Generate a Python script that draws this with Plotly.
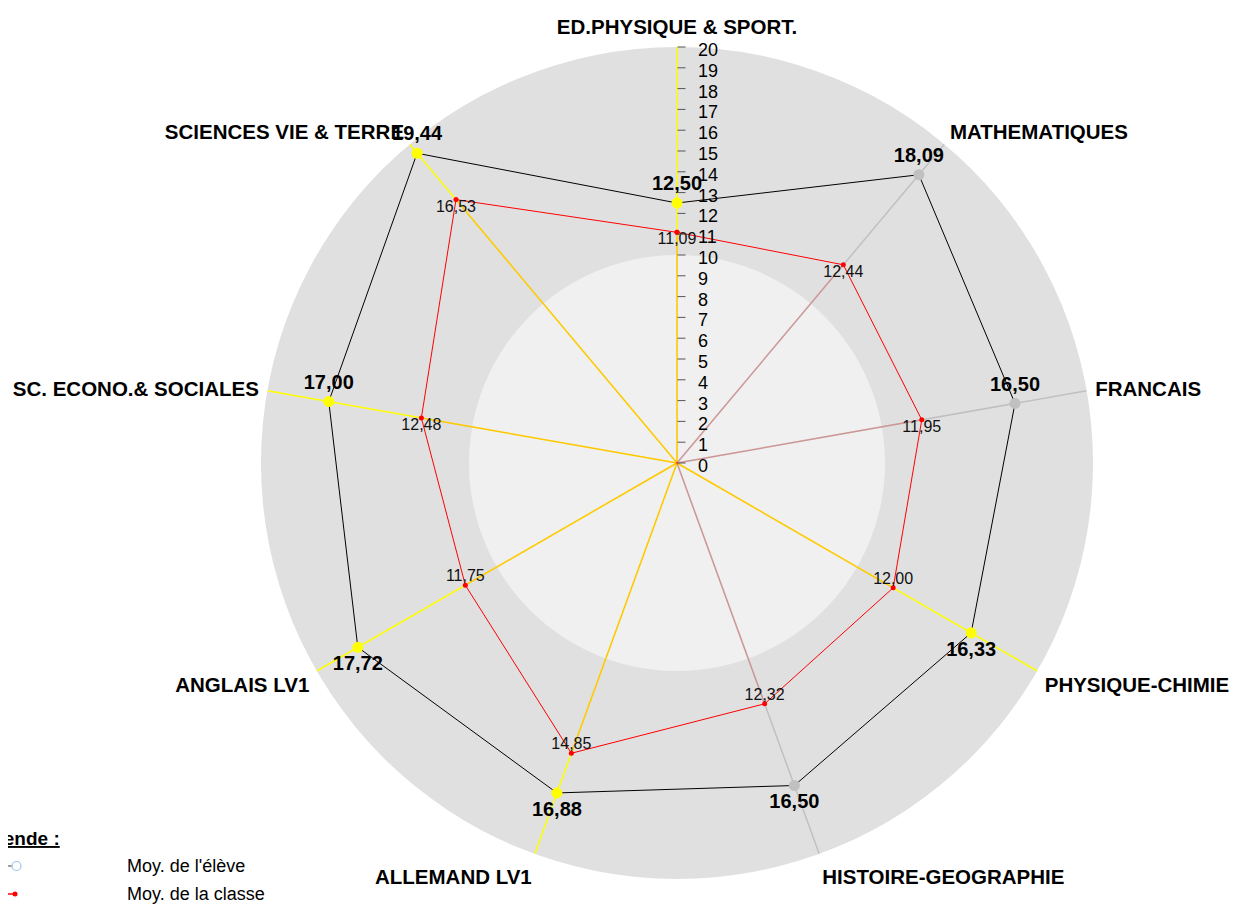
import plotly.graph_objects as go

categories = ["ED.PHYSIQUE & SPORT.", "MATHEMATIQUES", "FRANCAIS", "PHYSIQUE-CHIMIE",
              "HISTOIRE-GEOGRAPHIE", "ALLEMAND LV1", "ANGLAIS LV1",
              "SC. ECONO.& SOCIALES", "SCIENCES VIE & TERRE"]
eleve = [12.50, 18.09, 16.50, 16.33, 16.50, 16.88, 17.72, 17.00, 19.44]
classe = [11.09, 12.44, 11.95, 12.00, 12.32, 14.85, 11.75, 12.48, 16.53]
spoke_colors = ["#ffff00", "#c0c0c0", "#c0c0c0", "#ffff00", "#c0c0c0",
                "#ffff00", "#ffff00", "#ffff00", "#ffff00"]
radial_ticks = list(range(0, 21))
upper = [True, True, True, False, False, False, False, True, True]

FONT = "Arial, Liberation Sans, sans-serif"
W, H = 1237, 907
OFF = 8  # page body margin

def fmt(v):
    return f"{v:.2f}".replace(".", ",")

fig = go.Figure()

# inner light disc (0-10)
fig.add_trace(go.Barpolar(r=[10], theta=[categories[0]], width=[9], base=0,
                          marker=dict(color="#f0f0f0", line=dict(width=0)),
                          hoverinfo="skip", showlegend=False))

# spokes
for cat, col in zip(categories, spoke_colors):
    fig.add_trace(go.Scatterpolar(r=[0, 20], theta=[cat, cat], mode="lines",
                                  line=dict(color=col, width=1.5),
                                  hoverinfo="skip", showlegend=False))
# red translucent overlay from center to class value
for cat, v in zip(categories, classe):
    fig.add_trace(go.Scatterpolar(r=[0, v], theta=[cat, cat], mode="lines",
                                  line=dict(color="rgba(255,0,0,0.22)", width=1.5),
                                  hoverinfo="skip", showlegend=False))

# class polygon
fig.add_trace(go.Scatterpolar(
    r=classe + [classe[0]], theta=categories + [categories[0]],
    mode="lines+markers", line=dict(color="red", width=1),
    marker=dict(color="red", size=5), showlegend=False, hoverinfo="skip"))
fig.add_trace(go.Scatterpolar(
    r=classe, theta=categories, mode="text",
    text=[fmt(v) for v in classe],
    textposition=["bottom center" if u else "top center" for u in upper],
    textfont=dict(family=FONT, size=16, color="#111"),
    showlegend=False, hoverinfo="skip"))

# student polygon
fig.add_trace(go.Scatterpolar(
    r=eleve + [eleve[0]], theta=categories + [categories[0]],
    mode="lines", line=dict(color="black", width=1),
    showlegend=False, hoverinfo="skip"))
fig.add_trace(go.Scatterpolar(
    r=eleve, theta=categories, mode="markers+text",
    marker=dict(color=spoke_colors, size=11),
    text=["<b>" + fmt(v) + "</b>" for v in eleve],
    textposition=["top center" if u else "bottom center" for u in upper],
    textfont=dict(family=FONT, size=20, color="black"),
    showlegend=False, hoverinfo="skip"))

cx, cy, R = 677 - OFF, 463 - OFF, 416
fig.update_layout(
    width=W, height=H,
    margin=dict(l=0, r=0, t=0, b=0),
    paper_bgcolor="white",
    showlegend=False,
    polar=dict(
        domain=dict(x=[(cx - R) / W, (cx + R) / W], y=[(H - cy - R) / H, (H - cy + R) / H]),
        bgcolor="#e0e0e0",
        radialaxis=dict(range=[0, 20], angle=90, side="clockwise",
                        tickvals=radial_ticks, ticktext=[str(t) for t in radial_ticks],
                        ticks="outside", ticklen=8, tickcolor="#555",
                        showline=False, showgrid=False,
                        tickfont=dict(family=FONT, size=18, color="black"),
                        layer="above traces"),
        angularaxis=dict(rotation=90, direction="clockwise", categoryorder="array",
                         categoryarray=categories,
                         showline=False, showgrid=False, ticks="outside", ticklen=4,
                         tickcolor="rgba(0,0,0,0)",
                         tickprefix="<b>", ticksuffix="</b>",
                         tickfont=dict(family=FONT, size=20.5, color="black")),
        barmode="overlay",
    ),
)

# legend (custom)
fig.add_annotation(xref="paper", yref="paper", x=(62 - OFF) / W, y=1 - (838 - OFF) / H,
                   xanchor="right", yanchor="middle", showarrow=False,
                   text="<b><u>Légende :</u></b>",
                   font=dict(family=FONT, size=19, color="black"))
for i, (label, lcol) in enumerate([("Moy. de l'élève", "#808080"), ("Moy. de la classe", "red")]):
    yy = 866 + 28 * i - OFF
    fig.add_annotation(xref="paper", yref="paper", x=(125 - OFF) / W, y=1 - yy / H,
                       xanchor="left", yanchor="middle", showarrow=False,
                       text=label, font=dict(family=FONT, size=18, color="black"))
    fig.add_shape(type="line", xref="paper", yref="paper",
                  x0=0, x1=5 / W, y0=1 - yy / H, y1=1 - yy / H,
                  line=dict(color=lcol, width=1.5))
fig.add_shape(type="circle", xref="paper", yref="paper",
              x0=4 / W, x1=13 / W, y0=1 - (870.5 - OFF) / H, y1=1 - (861.5 - OFF) / H,
              line=dict(color="#a0c4f0", width=1.2), fillcolor="white")
fig.add_shape(type="circle", xref="paper", yref="paper",
              x0=4.5 / W, x1=9.5 / W, y0=1 - (896.5 - OFF) / H, y1=1 - (891.5 - OFF) / H,
              line=dict(color="red", width=0), fillcolor="red")

fig.write_html("out.html")
